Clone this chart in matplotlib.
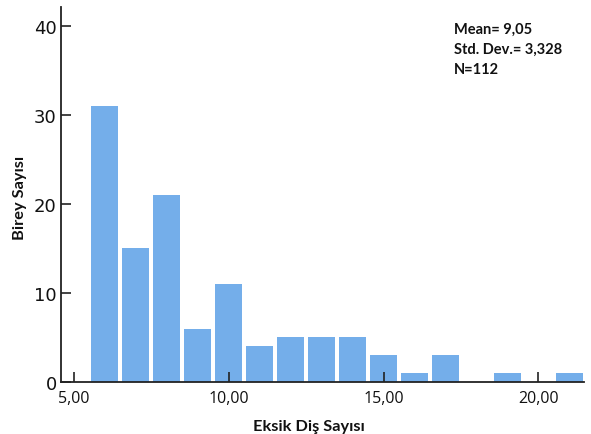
import matplotlib
matplotlib.use("Agg")
import matplotlib.pyplot as plt

# histogram bins (centres) and counts
bin_centers = [6, 7, 8, 9, 10, 11, 12, 13, 14, 15, 16, 17, 18, 19, 20, 21]
counts = [31, 15, 21, 6, 11, 4, 5, 5, 5, 3, 1, 3, 0, 1, 0, 1]
x_ticks = [5, 10, 15, 20]
x_tick_labels = ["5,00", "10,00", "15,00", "20,00"]
y_ticks = [0, 10, 20, 30, 40]
stats_lines = ["Mean= 9,05", "Std. Dev.= 3,328", "N=112"]

bar_color = "#74aeea"
font = ["Lato", "DejaVu Sans"]
W, H = 591, 435

fig = plt.figure(figsize=(W / 100, H / 100), dpi=100)
ax = fig.add_axes([0.1032, 0.1195, 0.885, 0.8615])

ax.bar(bin_centers, counts, width=0.87, color=bar_color, edgecolor="none", zorder=1)

ax.set_xlim(4.59, 21.47)
ax.set_ylim(0, 42.07)

ax.set_xticks(x_ticks)
ax.set_xticklabels(x_tick_labels, fontsize=11.5, family=["Open Sans", "DejaVu Sans"])
ax.set_yticks(y_ticks)
ax.set_yticklabels([str(v) for v in y_ticks], fontsize=13, family="DejaVu Sans")
ax.tick_params(axis="both", direction="in", length=7, width=1.2, colors="#222222",
               labelcolor="#111111")
ax.tick_params(axis="x", pad=6)
ax.tick_params(axis="y", pad=3)
for side in ["top", "right"]:
    ax.spines[side].set_visible(False)
for side in ["left", "bottom"]:
    ax.spines[side].set_linewidth(1.3)
    ax.spines[side].set_color("#222222")
    ax.spines[side].set_zorder(3)

# axis titles placed in figure pixels to match the original layout
fig.text(308.5 / W, 1 - 427 / H, "Eksik Diş Sayısı", fontsize=11.8, fontweight="bold",
         family=font, ha="center", va="center", color="#111111")
fig.text(20 / W, 1 - 197.5 / H, "Birey Sayısı", fontsize=11.8, fontweight="bold",
         family=font, ha="center", va="center", rotation=90, color="#111111")

for i, line in enumerate(stats_lines):
    fig.text(454 / W, 1 - (30 + 20 * i) / H, line, fontsize=10.5, fontweight="bold",
             family=font, va="center", ha="left", color="#111111")

fig.savefig("out.png", dpi=100)
plt.close(fig)
